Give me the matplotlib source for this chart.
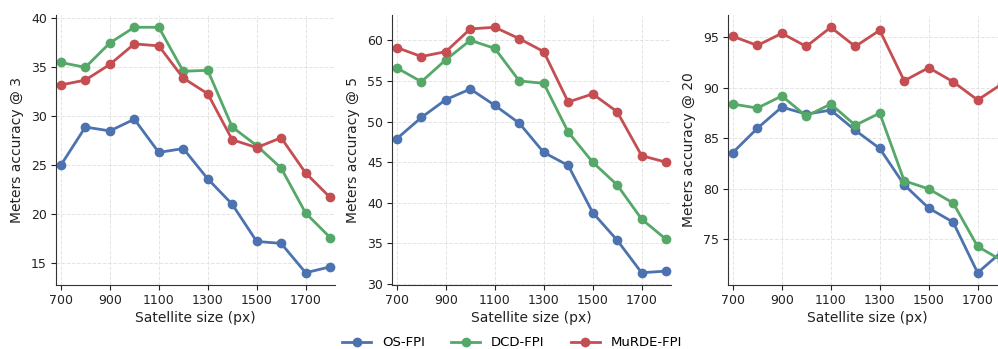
import matplotlib
matplotlib.use("Agg")
import matplotlib.pyplot as plt

# satellite image sizes (px)
sizes = [700, 800, 900, 1000, 1100, 1200, 1300, 1400, 1500, 1600, 1700, 1800]
xticks = [700, 900, 1100, 1300, 1500, 1700]

# meters accuracy @ 3
os_3 = [25.0, 28.9, 28.5, 29.7, 26.3, 26.7, 23.6, 21.0, 17.2, 17.0, 14.0, 14.6]
dcd_3 = [35.5, 35.0, 37.5, 39.1, 39.1, 34.6, 34.7, 28.9, 27.0, 24.7, 20.1, 17.6]
murde_3 = [33.2, 33.7, 35.3, 37.4, 37.2, 33.9, 32.3, 27.6, 26.8, 27.8, 24.2, 21.7]

# meters accuracy @ 5
os_5 = [47.9, 50.5, 52.7, 54.0, 52.0, 49.8, 46.2, 44.6, 38.8, 35.4, 31.4, 31.6]
dcd_5 = [56.6, 54.9, 57.6, 60.0, 59.0, 55.0, 54.7, 48.7, 45.0, 42.2, 38.0, 35.5]
murde_5 = [59.1, 58.0, 58.6, 61.4, 61.6, 60.2, 58.6, 52.4, 53.4, 51.2, 45.8, 45.0]

# meters accuracy @ 20
os_20 = [83.6, 86.0, 88.1, 87.4, 87.8, 85.8, 84.0, 80.4, 78.1, 76.7, 71.7, 73.8]
dcd_20 = [88.4, 88.0, 89.2, 87.2, 88.4, 86.3, 87.5, 80.8, 80.0, 78.6, 74.3, 72.9]
murde_20 = [95.1, 94.2, 95.4, 94.1, 96.0, 94.1, 95.7, 90.7, 92.0, 90.6, 88.8, 90.4]

methods = ["OS-FPI", "DCD-FPI", "MuRDE-FPI"]
colors = ["#4C72B0", "#55A868", "#C44E52"]
panels = [("Meters accuracy @ 3", [os_3, dcd_3, murde_3]),
          ("Meters accuracy @ 5", [os_5, dcd_5, murde_5]),
          ("Meters accuracy @ 20", [os_20, dcd_20, murde_20])]

W, H = 998, 349
fig = plt.figure(figsize=(W / 100, H / 100), dpi=100)

lefts = [56, 392, 728]
ax_w, top, bottom = 279, 15, 285

for left, (ylabel, series) in zip(lefts, panels):
    ax = fig.add_axes([left / W, 1 - bottom / H, ax_w / W, (bottom - top) / H])
    for name, vals, c in zip(methods, series, colors):
        ax.plot(sizes, vals, "-o", color=c, lw=2, ms=6, label=name)
    ax.set_xlim(680, 1820)
    ax.set_xticks(xticks)
    ax.set_xlabel("Satellite size (px)", fontsize=10, color="#222222", labelpad=3)
    ax.set_ylabel(ylabel, fontsize=10, color="#222222", labelpad=5)
    ax.tick_params(labelsize=9, colors="#222222", length=3.5, pad=3)
    ax.grid(True, ls="--", lw=0.7, color="#dddddd", alpha=0.8)
    ax.set_axisbelow(True)
    for s in ["top", "right"]:
        ax.spines[s].set_visible(False)
    for s in ["left", "bottom"]:
        ax.spines[s].set_color("#333333")
    handles, labels = ax.get_legend_handles_labels()

fig.legend(handles, labels, loc="center", ncol=3, frameon=False,
           bbox_to_anchor=(512 / W, 1 - 343 / H), fontsize=9.5,
           handlelength=2.2, columnspacing=2.0, borderaxespad=0, borderpad=0)

fig.savefig("out.png", dpi=100)
